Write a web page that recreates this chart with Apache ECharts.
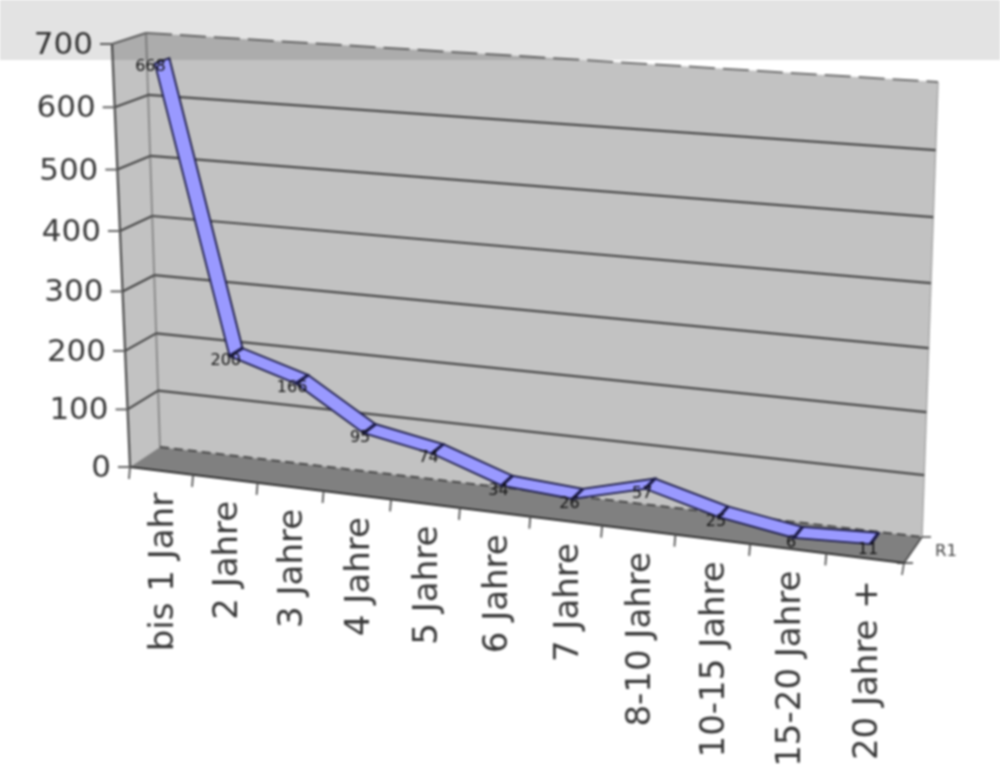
<!DOCTYPE html>
<html><head><meta charset="utf-8">
<style>html,body{margin:0;padding:0;background:#fff}#c{width:1000px;height:784px;filter:blur(1px)}</style>
<script src="https://cdn.jsdelivr.net/npm/echarts@6/dist/echarts.min.js"></script></head>
<body><div id="c"></div>
<script>
var categories = ['bis 1 Jahr','2 Jahre','3 Jahre','4 Jahre','5 Jahre','6 Jahre','7 Jahre','8-10 Jahre','10-15 Jahre','15-20 Jahre','20 Jahre +'];
var values = [668,200,166,95,74,34,26,57,25,6,11];
var yTicks = [0,100,200,300,400,500,600,700];
var seriesName = 'R1';

var W = 1000, H = 784;
var FBL=[130,467],FBR=[904,563],FTL=[112,44],FTR=[918,99];
var BBL=[160,447],BBR=[922,537],BTL=[146,33],BTR=[938,82];
function lerp(a,b,t){return [a[0]+(b[0]-a[0])*t,a[1]+(b[1]-a[1])*t];}
// u,v: fractions along the category and value axes; d: depth (0 front, 1 back wall)
function proj(u,v,d){
  var uu=u-0.114*u*(1-u), vv=v-0.055*v*(1-v);
  var f=lerp(lerp(FBL,FBR,uu),lerp(FTL,FTR,uu),vv);
  var b=lerp(lerp(BBL,BBR,uu),lerp(BTL,BTR,uu),vv);
  return lerp(f,b,d);
}
function uv(api,i,val){var p=api.coord([i,val]);return [p[0]/W,(H-p[1])/H];}
function add(p,dx,dy){return [p[0]+dx,p[1]+dy];}
function line(a,b,color,width,dash){return {type:'line',shape:{x1:a[0],y1:a[1],x2:b[0],y2:b[1]},style:{stroke:color,lineWidth:width,lineDash:dash||null}};}
function poly(pts,fill,stroke,w){return {type:'polygon',shape:{points:pts},style:{fill:fill,stroke:stroke||null,lineWidth:w||0}};}

var option = {
  animation:false,
  backgroundColor:'#fff',
  grid:{left:0,top:0,width:W,height:H},
  xAxis:{type:'category',data:categories,show:false},
  yAxis:{type:'value',min:0,max:700,interval:100,show:false},
  series:[
  {type:'custom',name:'walls',silent:true,z:1,data:[0],encode:{x:-1,y:-1},renderItem:function(){
    return {type:'group',children:[
      poly([proj(0,0,1),proj(1,0,1),proj(1,1,1),proj(0,1,1)],'#c2c2c2'),
      poly([proj(0,0,0),proj(0,0,1),proj(0,1,1),proj(0,1,0)],'#c2c2c2'),
      poly([proj(0,0,0),proj(1,0,0),proj(1,0,1),proj(0,0,1)],'#808080'),
      line(proj(0,0,1),proj(0,1,1),'#8c8c8c',2),
      line(proj(1,0,1),proj(1,1,1),'#a8a8a8',1.5),
      line(proj(0,0,1),proj(1,0,1),'#484848',2,[9,5]),
      line(proj(0,1,1),proj(1,1,1),'#707070',2,[26,8]),
      line(proj(0,0,0),proj(1,0,0),'#2c2c2c',2.2),
      line(proj(0,0,0),proj(0,1,0),'#4c4c4c',2.2),
      line(proj(1,0,0),proj(1,0,1),'#444',1.5),
      line(proj(1,0,1),add(proj(1,0,1),9,0),'#444',1.5),
      line(add(proj(1,0,0),-7,0),add(proj(1,0,0),9,0),'#333',1.5),
      line(proj(1,0,0),add(proj(1,0,0),-2,12),'#444',1.5),
      {type:'text',style:{x:proj(1,0,0.5)[0]+22,y:proj(1,0,0.5)[1]+2,text:seriesName,fill:'#444',font:'16.5px "DejaVu Sans"',textAlign:'left',textVerticalAlign:'middle'}}
    ]};
  }},
  {type:'custom',name:'grid',silent:true,z:2,data:yTicks,encode:{y:0,x:-1},renderItem:function(p,api){
    var t=api.value(0), v=uv(api,0,t)[1], a=proj(0,v,0), b=proj(0,v,1), c=proj(1,v,1), kids=[];
    if(t>0&&t<700){kids.push(line(a,b,'#484848',2.2),line(b,c,'#484848',2.2));}
    else if(t===700){kids.push(line(a,b,'#6a6a6a',2));}
    kids.push(line(add(a,-12,0),a,'#666',2));
    kids.push({type:'text',style:{x:a[0]-19,y:a[1]+2,text:String(t),fill:'#383838',font:'31px "DejaVu Sans"',textAlign:'right',textVerticalAlign:'middle'}});
    return {type:'group',children:kids};
  }},
  {type:'custom',name:'xticks',silent:true,z:2,data:categories.map(function(c,i){return [i];}),encode:{x:0,y:-1},renderItem:function(p,api){
    var i=api.value(0), pt=api.coord([i,0]), bw=api.size([1,0])[0], u=pt[0]/W;
    var t0=proj(u-bw/W/2,0,0), m=proj(u,0,0);
    return {type:'group',children:[
      line(t0,add(t0,-1,12),'#555',1.8),
      {type:'text',x:m[0]+3,y:m[1]+22,rotation:Math.PI/2,originX:0,originY:0,style:{x:0,y:0,text:categories[i],fill:'#383838',font:'34px "DejaVu Sans"',textAlign:'right',textVerticalAlign:'middle'}}
    ]};
  }},
  {type:'custom',name:seriesName,silent:true,z:3,data:values.map(function(v,i){return [i,v];}),encode:{x:0,y:1},renderItem:function(p,api){
    var i=api.value(0), val=api.value(1), q=uv(api,i,val), kids=[];
    var outline='#1c1c48';
    if(i<values.length-1){
      var r=uv(api,i+1,values[i+1]);
      kids.push(poly([proj(q[0],q[1],0.28),proj(r[0],r[1],0.28),proj(r[0],r[1],0.72),proj(q[0],q[1],0.72)],'#9999ff',outline,1.8));
    }
    if(i>0){
      kids.push(line(proj(q[0],q[1],0.28),proj(q[0],q[1],0.72),outline,3.2));
    }
    return {type:'group',children:kids};
  }},
  {type:'custom',name:'labels',silent:true,z:4,data:values.map(function(v,i){return [i,v];}),encode:{x:0,y:1},renderItem:function(p,api){
    var i=api.value(0), val=api.value(1), q=uv(api,i,val), lp=proj(q[0],q[1],0.15);
    return {type:'text',style:{x:lp[0],y:lp[1]+2,text:String(val),fill:'#111',font:'16px "DejaVu Sans"',textAlign:'center',textVerticalAlign:'middle'}};
  }},
  {type:'custom',name:'band',silent:true,z:9,data:[0],encode:{x:-1,y:-1},renderItem:function(){
    return {type:'rect',shape:{x:0,y:0,width:W,height:60},style:{fill:'rgba(0,0,0,0.11)'}};
  }}
  ]
};
var chart = echarts.init(document.getElementById('c'),null,{renderer:'canvas'});
chart.setOption(option);
</script></body></html>
